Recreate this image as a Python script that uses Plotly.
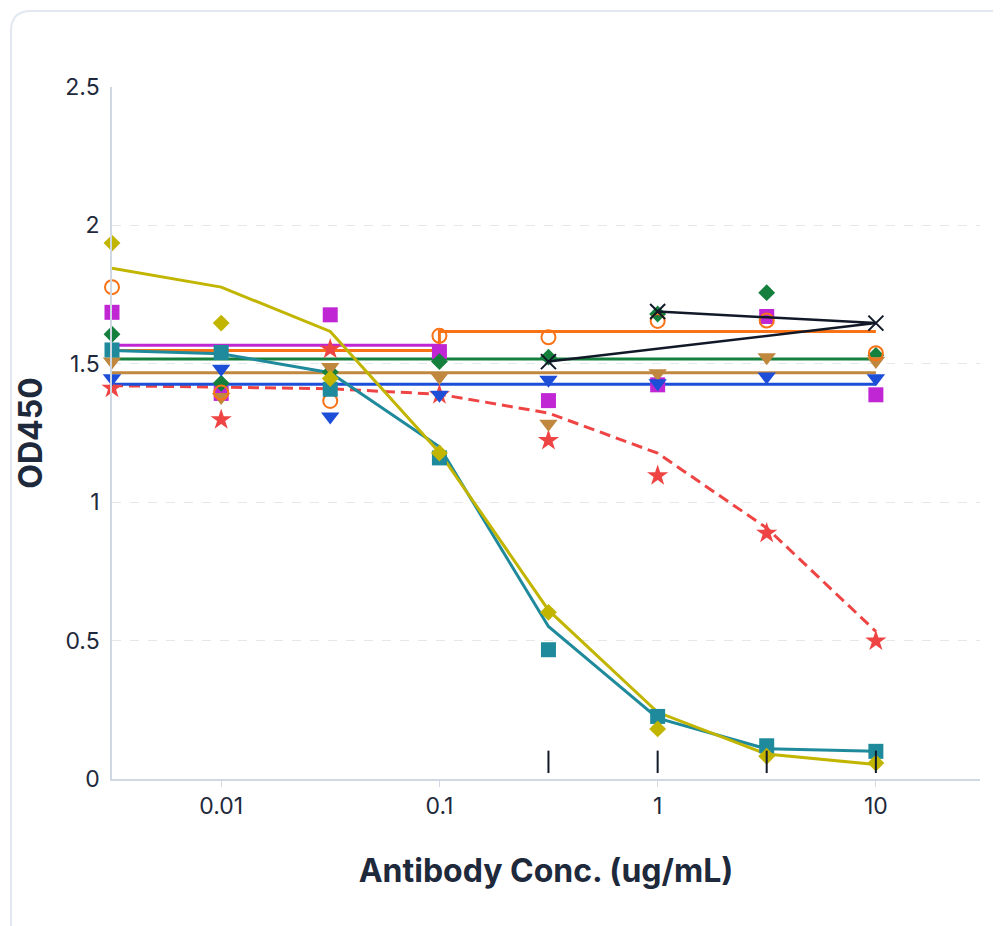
import math
import plotly.graph_objects as go

conc = [0.00316, 0.01, 0.0316, 0.1, 0.316, 1, 3.16, 10]

yellow_pts = [1.936, 1.647, 1.447, 1.178, 0.602, 0.181, 0.082, 0.058]
yellow_fit = [1.845, 1.777, 1.617, 1.18, 0.61, 0.241, 0.090, 0.052]
teal_pts = [1.550, 1.541, 1.408, 1.160, 0.467, 0.226, 0.120, 0.100]
teal_fit = [1.548, 1.536, 1.468, 1.20, 0.551, 0.220, 0.109, 0.100]
red_pts = [1.412, 1.298, 1.553, 1.388, 1.223, 1.096, 0.888, 0.499]
red_fit = [1.421, 1.416, 1.410, 1.390, 1.322, 1.177, 0.907, 0.533]
orange_pts = [1.777, 1.396, 1.366, 1.601, 1.596, 1.655, 1.656, 1.538]
orange_fit_x = [0.00316, 0.1, 0.1, 10]
orange_fit = [1.548, 1.548, 1.617, 1.617]
magenta_pts = [1.686, 1.393, 1.677, 1.544, 1.367, 1.424, 1.671, 1.388]
magenta_fit_x = [0.00316, 0.1]
magenta_fit = [1.567, 1.567]
green_pts = [1.607, 1.43, 1.47, 1.508, 1.524, 1.68, 1.757, 1.53]
green_fit_x = [0.00316, 10]
green_fit = [1.517, 1.517]
brown_pts = [1.508, 1.38, 1.488, 1.452, 1.283, 1.466, 1.524, 1.51]
brown_fit_x = [0.00316, 10]
brown_fit = [1.468, 1.468]
blue_pts = [1.448, 1.482, 1.310, 1.388, 1.442, 1.430, 1.454, 1.448]
blue_fit_x = [0.00316, 10]
blue_fit = [1.426, 1.426]
black_x = [1, 10, 0.316]
black_y = [1.689, 1.647, 1.508]
tick_marks_x = [0.316, 1, 3.16, 10]
tick_marks_y = [0.062, 0.062, 0.062, 0.062]

x_tickvals = [0.01, 0.1, 1, 10]
x_ticktext = ["0.01", "0.1", "1", "10"]
y_tickvals = [0, 0.5, 1, 1.5, 2, 2.5]
y_ticktext = ["0", "0.5", "1", "1.5", "2", "2.5"]

YELLOW = "#c2b500"
TEAL = "#1f8a9c"
RED = "#ef4444"
ORANGE = "#f97316"
MAGENTA = "#c026d3"
GREEN = "#15803d"
BROWN = "#c0873f"
BLUE = "#1d4ed8"
BLACK = "#111827"

fig = go.Figure()

# fitted lines
fig.add_trace(go.Scatter(x=conc, y=red_fit, mode="lines",
                         line=dict(color=RED, width=3, dash="11px,6px")))
fig.add_trace(go.Scatter(x=magenta_fit_x, y=magenta_fit, mode="lines",
                         line=dict(color=MAGENTA, width=3)))
fig.add_trace(go.Scatter(x=green_fit_x, y=green_fit, mode="lines",
                         line=dict(color=GREEN, width=3)))
fig.add_trace(go.Scatter(x=brown_fit_x, y=brown_fit, mode="lines",
                         line=dict(color=BROWN, width=3)))
fig.add_trace(go.Scatter(x=orange_fit_x, y=orange_fit, mode="lines",
                         line=dict(color=ORANGE, width=3)))
fig.add_trace(go.Scatter(x=blue_fit_x, y=blue_fit, mode="lines",
                         line=dict(color=BLUE, width=3)))
fig.add_trace(go.Scatter(x=conc, y=teal_fit, mode="lines",
                         line=dict(color=TEAL, width=3)))
fig.add_trace(go.Scatter(x=conc, y=yellow_fit, mode="lines",
                         line=dict(color=YELLOW, width=3)))

# points
mk = dict(mode="markers", cliponaxis=False)
fig.add_trace(go.Scatter(x=conc, y=red_pts, **mk,
                         marker=dict(symbol="star", size=16, color=RED)))
fig.add_trace(go.Scatter(x=conc, y=magenta_pts, **mk,
                         marker=dict(symbol="square", size=15, color=MAGENTA)))
fig.add_trace(go.Scatter(x=conc, y=green_pts, **mk,
                         marker=dict(symbol="diamond", size=13, color=GREEN)))
fig.add_trace(go.Scatter(x=conc, y=brown_pts, **mk,
                         marker=dict(symbol="triangle-down", size=16, color=BROWN)))
fig.add_trace(go.Scatter(x=conc, y=orange_pts, **mk,
                         marker=dict(symbol="circle-open", size=14, color=ORANGE,
                                     line=dict(width=2, color=ORANGE))))
fig.add_trace(go.Scatter(x=conc, y=blue_pts, **mk,
                         marker=dict(symbol="triangle-down", size=16, color=BLUE)))
fig.add_trace(go.Scatter(x=conc, y=teal_pts, **mk,
                         marker=dict(symbol="square", size=15, color=TEAL)))
fig.add_trace(go.Scatter(x=conc, y=yellow_pts, **mk,
                         marker=dict(symbol="diamond", size=13, color=YELLOW)))
fig.add_trace(go.Scatter(x=black_x, y=black_y, mode="lines+markers",
                         cliponaxis=False,
                         line=dict(color=BLACK, width=2.5),
                         marker=dict(symbol="x-thin-open", size=15, color=BLACK,
                                     line=dict(width=2, color=BLACK))))
fig.add_trace(go.Scatter(x=tick_marks_x, y=tick_marks_y, **mk,
                         marker=dict(symbol="line-ns-open", size=16, color=BLACK,
                                     line=dict(width=2, color=BLACK))))

# page body has an 8px margin; compensate so the screen positions match
OFF = 8
W, H = 1001 - OFF, 926 - OFF
L = 112 - OFF
T = 87 - OFF
R = W - (980 - OFF)
B = H - (779 - OFF)
pw, ph = W - L - R, H - T - B


def px(xs):
    return (xs - OFF - L) / pw


def py(ys):
    return (H - B - (ys - OFF)) / ph


path = (f"M{px(11)},{py(960)} L{px(11)},{py(31)} "
        f"Q{px(11)},{py(11)} {px(31)},{py(11)} L{px(1030)},{py(11)}")
fig.add_shape(type="path", path=path, xref="paper", yref="paper",
              line=dict(color="#e2e8f0", width=2), layer="below")

FONT = "Inter, Noto Sans, sans-serif"
TXT = "#1e293b"

fig.update_layout(
    width=W, height=H,
    margin=dict(l=L, r=R, t=T, b=B),
    paper_bgcolor="white", plot_bgcolor="white",
    showlegend=False,
    font=dict(family=FONT, color=TXT, size=20),
    xaxis=dict(
        type="log",
        range=[math.log10(0.00316), math.log10(30)],
        tickvals=x_tickvals, ticktext=x_ticktext,
        showgrid=False, zeroline=False,
        showline=True, linecolor="#cfd8e3", linewidth=1.5,
        ticks="outside", ticklen=6, tickcolor="#cfd8e3",
        tickfont=dict(size=23, color=TXT),
        title=dict(text="<b>Antibody Conc. (ug/mL)</b>", standoff=40,
                   font=dict(size=32, color=TXT)),
    ),
    yaxis=dict(
        range=[0, 2.5],
        tickvals=y_tickvals, ticktext=y_ticktext,
        showgrid=True, gridcolor="#e5e7eb", griddash="dash", gridwidth=1,
        zeroline=False,
        showline=True, linecolor="#cfd8e3", linewidth=1.5,
        ticks="", ticklabelstandoff=6,
        tickfont=dict(size=23, color=TXT),
        title=dict(text="<b>OD450</b>", standoff=13,
                   font=dict(size=32, color=TXT)),
    ),
)

fig.write_html("out.html")
